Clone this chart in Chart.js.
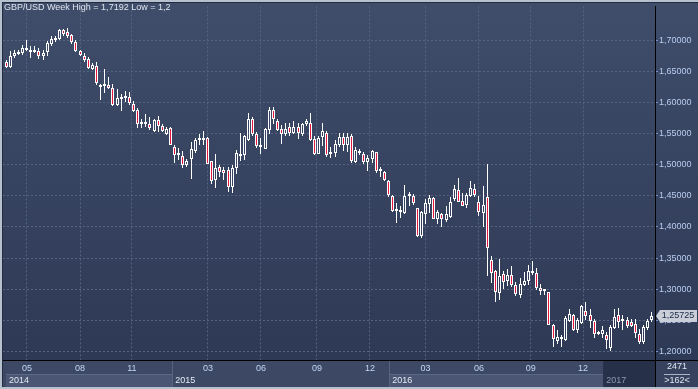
<!DOCTYPE html>
<html>
<head>
<meta charset="utf-8">
<script src="https://cdn.jsdelivr.net/npm/chart.js@4.4.0/dist/chart.umd.min.js"></script>
<style>
  html, body { margin: 0; padding: 0; background: #b7c0cf; }
  #gbpChart { display: block; }
</style>
</head>
<body>
<canvas id="gbpChart" width="698" height="389"></canvas>
<script>
// GBP/USD weekly candles, one per week from the end of March 2014
const open = [
    1.6649,1.6569,1.6744,1.6787,1.6798,1.6850,1.6841,1.6832,1.6824,1.6745,
    1.6809,1.6946,1.7010,1.7021,1.7159,1.7127,1.7084,1.6968,1.6830,1.6755,
    1.6702,1.6543,1.6586,1.6256,1.6266,1.6287,1.6240,1.5959,1.6065,1.6097,
    1.6097,1.5969,1.5884,1.5656,1.5651,1.5651,1.5550,1.5725,1.5630,1.5497,
    1.5587,1.5285,1.5152,1.5142,1.4993,1.5089,1.5216,1.5391,1.5400,1.5428,
    1.5057,1.4754,1.4966,1.4913,
    1.4913,1.4637,1.4940,1.5168,1.5152,1.5391,1.5741,1.5487,1.5285,1.5258,
    1.5561,1.5879,1.5709,1.5571,1.5497,1.5603,1.5518,1.5603,1.5487,1.5656,
    1.5678,1.5418,1.5178,1.5444,1.5518,1.5179,1.5189,1.5311,1.5444,1.5311,
    1.5455,1.5051,1.5221,1.5179,1.5041,1.5099,1.5200,1.4892,1.4887,1.4743,
    1.4499,1.4250,1.4234,1.4223,1.4490,1.4499,1.4303,1.3852,1.4213,1.4372,
    1.4462,1.4128,1.4213,1.4117,1.4160,1.4446,1.4595,1.4425,1.4356,1.4500,
    1.4611,1.4394,1.4224,1.4489,1.3470,1.3295,1.2939,1.3242,1.3136,1.3226,
    1.3067,1.2907,1.3067,1.3136,1.3258,1.3258,1.3024,1.2977,1.2950,1.2430,
    1.2164,1.2217,1.2180,1.2483,1.2578,1.2339,1.2461,1.2642,1.2589,1.2483,
    1.2284,1.2286,1.2260,1.2048,1.2377,1.2578,1.2483,1.2504,1.2472,1.2446,
    1.2286,1.2154,1.2377,1.2504
];
const high = [
    1.6680,1.6824,1.6840,1.6850,1.6930,1.7000,1.6904,1.6914,1.6882,1.6841,
    1.6984,1.7064,1.7064,1.7180,1.7180,1.7192,1.7105,1.7000,1.6850,1.6798,
    1.6730,1.6640,1.6650,1.6295,1.6532,1.6415,1.6293,1.6224,1.6134,1.6187,
    1.6170,1.6028,1.5906,1.5735,1.5815,1.5762,1.5735,1.5778,1.5656,1.5603,
    1.5600,1.5311,1.5269,1.5216,1.5100,1.5365,1.5428,1.5497,1.5550,1.5440,
    1.5060,1.5173,1.5004,1.4966,
    1.4966,1.4993,1.5232,1.5508,1.5480,1.5826,1.5760,1.5520,1.5433,1.5590,
    1.5932,1.5922,1.5740,1.5646,1.5667,1.5667,1.5699,1.5667,1.5667,1.5731,
    1.5826,1.5455,1.5470,1.5667,1.5550,1.5285,1.5391,1.5508,1.5508,1.5508,
    1.5487,1.5285,1.5258,1.5205,1.5152,1.5242,1.5205,1.4956,1.4903,1.4750,
    1.4510,1.4393,1.4329,1.4674,1.4568,1.4531,1.4310,1.4250,1.4446,1.4515,
    1.4478,1.4276,1.4223,1.4329,1.4478,1.4674,1.4781,1.4542,1.4542,1.4744,
    1.4691,1.4500,1.4659,1.5009,1.3534,1.3300,1.3481,1.3295,1.3322,1.3374,
    1.3109,1.3173,1.3268,1.3385,1.3454,1.3348,1.3083,1.3003,1.2960,1.2446,
    1.2339,1.2260,1.2568,1.2674,1.2600,1.2536,1.2738,1.2791,1.2674,1.2515,
    1.2323,1.2408,1.2313,1.2419,1.2674,1.2695,1.2589,1.2546,1.2515,1.2525,
    1.2366,1.2419,1.2525,1.2631
];
const low = [
    1.6548,1.6560,1.6718,1.6766,1.6771,1.6830,1.6723,1.6798,1.6702,1.6691,
    1.6755,1.6914,1.6968,1.7000,1.7075,1.7037,1.6946,1.6809,1.6745,1.6650,
    1.6543,1.6522,1.6277,1.6044,1.6160,1.6213,1.5948,1.5937,1.5869,1.6001,
    1.5959,1.5842,1.5587,1.5587,1.5603,1.5566,1.5524,1.5524,1.5524,1.5481,
    1.5318,1.5035,1.5073,1.4940,1.4960,1.4770,1.5195,1.5322,1.5311,1.5015,
    1.4685,1.4621,1.4807,1.4754,
    1.4568,1.4552,1.4850,1.5062,1.5073,1.5380,1.5470,1.5270,1.5168,1.5250,
    1.5487,1.5656,1.5540,1.5327,1.5455,1.5470,1.5487,1.5418,1.5455,1.5624,
    1.5380,1.5152,1.5168,1.5295,1.5126,1.5115,1.5126,1.5285,1.5221,1.5205,
    1.5030,1.5030,1.5152,1.5020,1.4903,1.5030,1.4871,1.4797,1.4743,1.4489,
    1.4234,1.4064,1.4144,1.4215,1.4329,1.4356,1.3841,1.3825,1.4054,1.4223,
    1.4120,1.4054,1.4001,1.4075,1.4144,1.4425,1.4400,1.4329,1.4303,1.4489,
    1.4489,1.4181,1.4001,1.3215,1.3098,1.2790,1.2833,1.3003,1.3045,1.3029,
    1.2897,1.2854,1.3045,1.3067,1.3226,1.2992,1.2907,1.2907,1.2425,1.2074,
    1.2111,1.2074,1.2164,1.2472,1.2323,1.2302,1.2446,1.2499,1.2377,1.2217,
    1.2260,1.2217,1.2037,1.2000,1.2366,1.2377,1.2339,1.2377,1.2393,1.2207,
    1.2111,1.2111,1.2339,1.2472
];
const close = [
    1.6569,1.6744,1.6797,1.6818,1.6872,1.6882,1.6809,1.6814,1.6745,1.6798,
    1.6957,1.7020,1.7037,1.7159,1.7105,1.7075,1.6968,1.6825,1.6771,1.6682,
    1.6559,1.6611,1.6320,1.6277,1.6287,1.6235,1.5959,1.6081,1.6097,1.6076,
    1.5991,1.5869,1.5656,1.5683,1.5672,1.5598,1.5714,1.5630,1.5550,1.5577,
    1.5322,1.5152,1.5190,1.4993,1.5057,1.5248,1.5391,1.5428,1.5428,1.5020,
    1.4738,1.4951,1.4887,1.4860,
    1.4637,1.4940,1.5189,1.5142,1.5455,1.5731,1.5497,1.5295,1.5312,1.5571,
    1.5879,1.5736,1.5561,1.5487,1.5582,1.5508,1.5614,1.5508,1.5656,1.5699,
    1.5402,1.5168,1.5434,1.5540,1.5152,1.5206,1.5327,1.5444,1.5311,1.5444,
    1.5062,1.5242,1.5189,1.5041,1.5104,1.5221,1.4903,1.4924,1.4754,1.4510,
    1.4250,1.4276,1.4260,1.4499,1.4510,1.4393,1.3852,1.4234,1.4393,1.4462,
    1.4128,1.4234,1.4128,1.4202,1.4404,1.4605,1.4409,1.4340,1.4515,1.4622,
    1.4516,1.4234,1.4356,1.3666,1.3258,1.2950,1.3205,1.3109,1.3226,1.3067,
    1.2923,1.3083,1.3130,1.3295,1.3290,1.3014,1.2971,1.2993,1.2430,1.2196,
    1.2233,1.2196,1.2536,1.2600,1.2339,1.2499,1.2727,1.2568,1.2493,1.2286,
    1.2300,1.2345,1.2180,1.2392,1.2552,1.2472,1.2499,1.2408,1.2408,1.2302,
    1.2154,1.2392,1.2483,1.25725
];

// Axis labels (positions are in week index units)
const monthTicks = [5.1, 18.0, 30.6, 49.1, 62.0, 75.6, 88.5, 102.0, 115.0, 127.6, 140.3];
const monthLabels = ['05', '08', '11', '03', '06', '09', '12', '03', '06', '09', '12'];
const yearStarts = [0, 40.4, 93.2, 145.2];
const yearLabels = ['2014', '2015', '2016', '2017'];
const priceTicks = [1.20, 1.25, 1.30, 1.35, 1.40, 1.45, 1.50, 1.55, 1.60, 1.65, 1.70];
const titleText = 'GBP/USD Week High = 1,7192 Low = 1,2';
const barCount = '2471';
const zoomText = '>162<';

const FONT = '"Liberation Sans", Arial, sans-serif';

function fmtPrice(v, digits) {
    return v.toFixed(digits).replace('.', ',');
}

// Build candle parts: bodies plus separate upper / lower wicks
const weeks = close.map((c, i) => i);
const bodies = weeks.map(i => ({ x: i, y: [Math.min(open[i], close[i]), Math.max(open[i], close[i])] }));
const upperWicks = weeks.map(i => ({ x: i, y: [Math.max(open[i], close[i]), high[i]] }));
const lowerWicks = weeks.map(i => ({ x: i, y: [low[i], Math.min(open[i], close[i])] }));
const bodyColors = weeks.map(i => close[i] < open[i] ? '#e3173f' : 'rgba(0,0,0,0)');

// Snap candle elements to whole pixels so they stay crisp
const pixelSnap = {
    id: 'pixelSnap',
    afterDatasetsUpdate(chart) {
        chart.data.datasets.forEach((ds, d) => {
            const meta = chart.getDatasetMeta(d);
            meta.data.forEach(el => {
                el.x = Math.floor(el.x) + 0.5;
                el.y = Math.round(el.y);
                el.base = Math.round(el.base);
                if (d === 0 && el.base - el.y < 2) {
                    el.y = el.base - 2;
                }
            });
        });
    }
};

// Background, axis band, year boxes
const chartFrame = {
    id: 'chartFrame',
    beforeDraw(chart) {
        const ctx = chart.ctx;
        const area = chart.chartArea;
        const xs = chart.scales.x;
        const W = chart.width;
        ctx.save();
        ctx.fillStyle = '#b7c0cf';
        ctx.fillRect(0, 0, W, chart.height);
        ctx.fillStyle = '#222b40';
        ctx.fillRect(2, 2, W - 2, 385);

        const grad = ctx.createLinearGradient(0, area.top, 0, area.bottom);
        grad.addColorStop(0, '#3f4d6a');
        grad.addColorStop(1, '#2e3955');
        ctx.fillStyle = grad;
        ctx.fillRect(3, 3, W - 3, area.bottom - 3);

        // month / year band
        ctx.fillStyle = '#3d4865';
        ctx.fillRect(3, area.bottom, W - 3, 27);

        ctx.font = '9px ' + FONT;
        ctx.textBaseline = 'middle';
        yearStarts.forEach((start, i) => {
            const x0 = xs.getPixelForValue(start);
            const x1 = i < yearStarts.length - 1 ? xs.getPixelForValue(yearStarts[i + 1]) : area.right;
            if (i === yearStarts.length - 1) {
                ctx.fillStyle = '#273049';
                ctx.fillRect(x0, area.bottom + 1, x1 - x0, 26);
                ctx.fillStyle = '#8c98b0';
            } else {
                if (i % 2 === 0) {
                    ctx.fillStyle = '#4a5673';
                    ctx.fillRect(x0, 374, x1 - x0, 13);
                    ctx.fillStyle = '#5b6886';
                    ctx.fillRect(x0, 374, x1 - x0, 1);
                }
                if (i > 0) {
                    ctx.fillStyle = '#59657f';
                    ctx.fillRect(Math.round(x0), area.bottom + 1, 1, 26);
                }
                ctx.fillStyle = '#e4e9f2';
            }
            ctx.fillText(yearLabels[i], x0 + 3, 381);
        });

        // corner box under the price axis
        ctx.fillStyle = '#37425e';
        ctx.fillRect(area.right, area.bottom, W - area.right, 27);
        ctx.fillStyle = '#000000';
        ctx.fillRect(area.right, area.bottom, 1, 27);
        ctx.fillRect(3, area.bottom, W - 3, 1);
        ctx.restore();
    },
    afterDraw(chart) {
        const ctx = chart.ctx;
        const area = chart.chartArea;
        const ys = chart.scales.y;
        const W = chart.width;
        ctx.save();
        ctx.font = '9px ' + FONT;
        ctx.textBaseline = 'middle';

        // title
        ctx.fillStyle = '#dfe4ee';
        ctx.textAlign = 'left';
        ctx.fillText(titleText, 4, 8);

        // last price tag
        const last = close[close.length - 1];
        const py = Math.round(ys.getPixelForValue(last));
        ctx.fillStyle = '#c9ced8';
        ctx.beginPath();
        ctx.moveTo(area.right + 1, py);
        ctx.lineTo(area.right + 5, py - 6);
        ctx.lineTo(W - 1, py - 6);
        ctx.lineTo(W - 1, py + 6);
        ctx.lineTo(area.right + 5, py + 6);
        ctx.closePath();
        ctx.fill();
        ctx.fillStyle = '#1b2a48';
        ctx.textAlign = 'center';
        ctx.fillText(fmtPrice(last, 5), 678, py);

        // bar counter
        ctx.fillStyle = '#dfe6f2';
        ctx.fillText(barCount, 677, 367);
        ctx.fillText(zoomText, 677, 381);
        ctx.fillStyle = '#aab4c6';
        ctx.fillRect(664, 374, 26, 1);
        ctx.restore();
    }
};

const ctx = document.getElementById('gbpChart').getContext('2d');
Chart.defaults.font.family = FONT;
Chart.defaults.font.size = 9;

const weeklyChart = new Chart(ctx, {
    type: 'bar',
    data: {
        datasets: [{
            label: 'body',
            data: bodies,
            backgroundColor: bodyColors,
            borderColor: '#ffffff',
            borderWidth: 1,
            borderSkipped: false,
            barThickness: 3,
            grouped: false,
            inflateAmount: 0
        }, {
            label: 'upper',
            data: upperWicks,
            backgroundColor: '#ffffff',
            borderWidth: 0,
            barThickness: 1,
            grouped: false,
            inflateAmount: 0
        }, {
            label: 'lower',
            data: lowerWicks,
            backgroundColor: '#ffffff',
            borderWidth: 0,
            barThickness: 1,
            grouped: false,
            inflateAmount: 0
        }]
    },
    options: {
        responsive: false,
        animation: false,
        events: [],
        devicePixelRatio: 1,
        layout: { padding: { left: 3, top: 3, right: 0, bottom: 0 } },
        plugins: {
            legend: { display: false },
            tooltip: { enabled: false },
            title: { display: false }
        },
        scales: {
            x: {
                type: 'linear',
                min: -0.73,
                max: 157.8,
                offset: false,
                afterFit(scale) { scale.height = 29; },
                afterBuildTicks(scale) { scale.ticks = monthTicks.map(v => ({ value: v })); },
                ticks: {
                    autoSkip: false,
                    maxRotation: 0,
                    padding: 3,
                    color: '#c3d5f5',
                    callback: (value, index) => monthLabels[index]
                },
                grid: { color: '#556280', drawTicks: false, offset: false },
                border: { display: true, color: '#000000', width: 1, dash: [2, 2] }
            },
            y: {
                type: 'linear',
                position: 'right',
                min: 1.1861,
                max: 1.7546,
                beginAtZero: false,
                afterFit(scale) { scale.width = 43; },
                afterBuildTicks(scale) { scale.ticks = priceTicks.map(v => ({ value: v })); },
                ticks: {
                    padding: 1,
                    color: '#b9cdf0',
                    callback: (value) => fmtPrice(value, 5)
                },
                grid: { color: '#556280', tickLength: 3, tickColor: '#6f90cc', tickWidth: 1 },
                border: { display: true, color: '#000000', width: 1, dash: [2, 2] }
            }
        }
    },
    plugins: [pixelSnap, chartFrame]
});
</script>
</body>
</html>
